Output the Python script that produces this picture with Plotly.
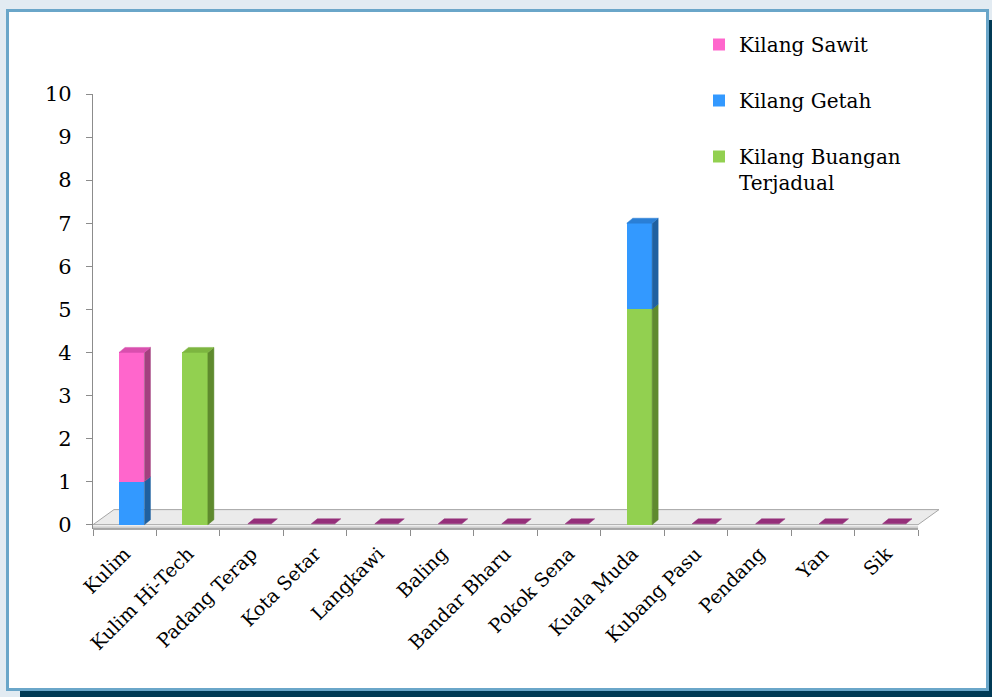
import plotly.graph_objects as go

# ---- data ----
categories = ["Kulim", "Kulim Hi-Tech", "Padang Terap", "Kota Setar", "Langkawi", "Baling",
              "Bandar Bharu", "Pokok Sena", "Kuala Muda", "Kubang Pasu", "Pendang", "Yan", "Sik"]
buangan = [0, 4, 0, 0, 0, 0, 0, 0, 5, 0, 0, 0, 0]   # Kilang Buangan Terjadual
getah = [1, 0, 0, 0, 0, 0, 0, 0, 2, 0, 0, 0, 0]     # Kilang Getah
sawit = [3, 0, 0, 0, 0, 0, 0, 0, 0, 0, 0, 0, 0]     # Kilang Sawit
y_ticks = list(range(0, 11))

series = [
    ("Kilang Buangan<br>Terjadual", buangan, "#92d050", "#5f8a2e", "#7db540", 3),
    ("Kilang Getah", getah, "#3399ff", "#1f60a0", "#2a7fd6", 2),
    ("Kilang Sawit", sawit, "#ff66cc", "#a3407f", "#d94fae", 1),
]

# ---- geometry (pseudo 3D) ----
W = 0.4       # bar width (category units)
OFF = -0.09   # bar offset from category centre
DX = 0.095    # depth in x (category units)
DY = 0.116    # depth in y (value units)
FDX, FDY = 0.33, 0.35   # floor depth
X0, X1 = -0.5, len(categories) - 0.5 + FDX
Y0, Y1 = -0.1, 10

FONT = "DejaVu Serif"
fig = go.Figure()

idx = list(range(len(categories)))
for k, (name, vals, col, side, top, rank) in enumerate(series):
    fig.add_trace(go.Bar(
        x=idx, y=vals, name=name, marker=dict(color=col, line=dict(width=0)),
        width=W, offset=OFF, legendgroup=str(k), legendrank=rank,
    ))

# side faces
base = [0] * len(categories)
tops_color = ["#952f7a"] * len(categories)
for name, vals, col, side, top, rank in series:
    xs, ys = [], []
    for i, v in enumerate(vals):
        if v > 0:
            xr = i + OFF + W
            b = base[i]
            xs += [xr, xr + DX, xr + DX, xr, xr, None]
            ys += [b, b + DY, b + v + DY, b + v, b, None]
            tops_color[i] = top
        base[i] += v
    if xs:
        fig.add_trace(go.Scatter(x=xs, y=ys, mode="lines", fill="toself", fillcolor=side,
                                 line=dict(width=0.5, color=side), showlegend=False,
                                 hoverinfo="skip"))

# top faces
by_color = {}
for i in idx:
    t = base[i]
    x0 = i + OFF
    x1 = x0 + W
    c = tops_color[i]
    xs, ys = by_color.setdefault(c, ([], []))
    if t > 0:
        xs += [x0, x1, x1 + DX, x0 + DX, x0, None]
        ys += [t, t, t + DY, t + DY, t, None]
    else:
        xs += [x0 + 0.03, x1, x1 + DX, x0 + DX + 0.03, x0 + 0.03, None]
        ys += [0.02, 0.02, 0.02 + DY, 0.02 + DY, 0.02, None]
for c, (xs, ys) in by_color.items():
    fig.add_trace(go.Scatter(x=xs, y=ys, mode="lines", fill="toself", fillcolor=c,
                             line=dict(width=0.5, color=c), showlegend=False, hoverinfo="skip"))

# ---- frame geometry in pixels -> paper ----
L, T, PW, PH = 93, 94, 846, 435
def fx(px):
    return (px - L) / PW
def fy(py):
    return (T + PH - py) / PH

n = len(categories)
shapes = [
    # dark shadow
    dict(type="rect", xref="paper", yref="paper", x0=fx(20), x1=fx(1000), y0=fy(705), y1=fy(20),
         fillcolor="#013a55", line=dict(width=0), layer="below"),
    # white panel with blue border
    dict(type="rect", xref="paper", yref="paper", x0=fx(7.5), x1=fx(987.5), y0=fy(689.5), y1=fy(10.5),
         fillcolor="white", line=dict(color="#6aa6c9", width=3), layer="below"),
    # floor
    dict(type="path", xref="x", yref="y",
         path=f"M {X0},0 L {n - 0.5},0 L {n - 0.5 + FDX},{FDY} L {X0 + FDX},{FDY} Z",
         fillcolor="#ebebeb", line=dict(color="#a6a6a6", width=1), layer="below"),
    dict(type="line", xref="x", yref="y", x0=X0, x1=n - 0.5, y0=-0.06, y1=-0.06,
         line=dict(color="#cfcfcf", width=2), layer="below"),
    # x axis baseline
    dict(type="line", xref="paper", yref="paper", x0=0, x1=(n) / (X1 - X0), y0=0, y1=0,
         line=dict(color="#8c8c8c", width=1.3)),
]

fig.update_layout(
    width=992, height=697,
    margin=dict(l=L, r=992 - L - PW, t=T, b=697 - T - PH, pad=0),
    paper_bgcolor="#e2ebf2", plot_bgcolor="rgba(0,0,0,0)",
    barmode="stack", bargap=0,
    font=dict(family=FONT, color="black"),
    shapes=shapes,
    showlegend=True,
    legend=dict(x=fx(699), y=fy(25), xanchor="left", yanchor="top", valign="top",
                traceorder="grouped", tracegroupgap=27,
                font=dict(size=20, family=FONT), bgcolor="rgba(0,0,0,0)"),
    xaxis=dict(range=[X0, X1], tickmode="array", tickvals=idx, ticktext=categories,
               tickangle=-45, ticks="", showline=False, showgrid=False, zeroline=False,
               tickfont=dict(size=19, family=FONT), ticklabelstandoff=9,
               minor=dict(tickmode="array", tickvals=[i - 0.5 for i in range(n + 1)],
                          ticks="outside", ticklen=6, tickcolor="#8c8c8c", showgrid=False)),
    yaxis=dict(range=[Y0, Y1], tickmode="array", tickvals=y_ticks, ticks="outside", ticklen=6,
               tickcolor="#8c8c8c", showline=True, linecolor="#8c8c8c", linewidth=1.3,
               showgrid=False, zeroline=False, tickfont=dict(size=21, family=FONT),
               ticklabelstandoff=10),
)

fig.write_html("out.html", config={"displayModeBar": False},
               post_script="document.body.style.margin='0px';")
